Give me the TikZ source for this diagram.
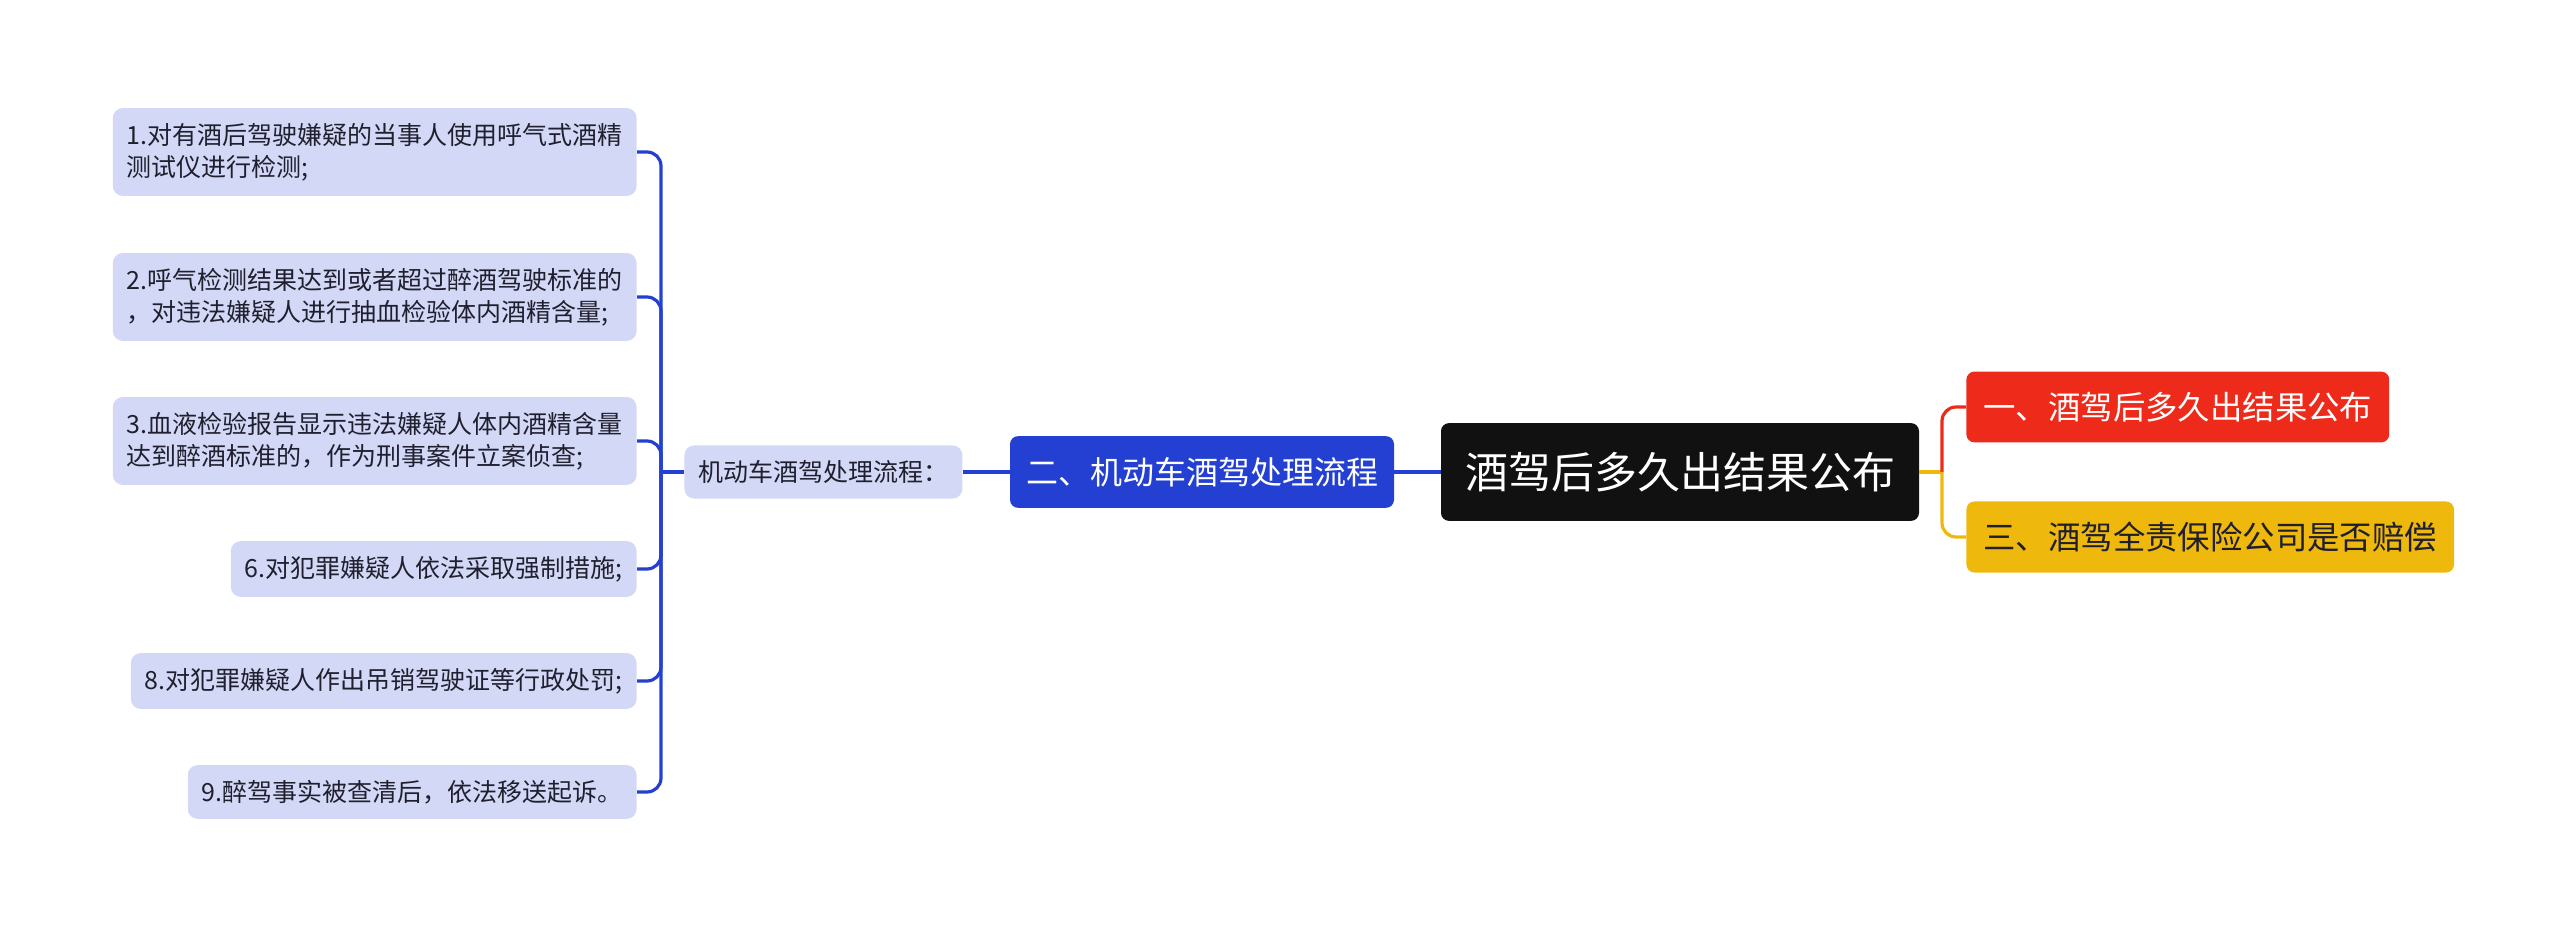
\documentclass[tikz,border=0pt]{standalone}
\usepackage{fontspec}
\setmainfont{Noto Sans CJK SC}
\definecolor{leaf}{HTML}{D3D8F6}
\definecolor{deepblue}{HTML}{2340D2}
\definecolor{rootblack}{HTML}{111111}
\definecolor{topred}{HTML}{EE2B1B}
\definecolor{topyellow}{HTML}{EFB80C}
\definecolor{ink}{HTML}{1F1F2E}
\begin{document}
\begin{tikzpicture}[
            x=0.5pt, y=-0.5pt,
            leafbox/.style={fill=leaf, text=ink, rounded corners=5pt, inner xsep=7pt, inner ysep=7.5pt, align=left, font=\fontsize{12.5}{16}\selectfont},
            bluebox/.style={fill=deepblue, text=white, rounded corners=4pt, inner xsep=8pt, inner ysep=10.5pt, font=\fontsize{16}{19}\selectfont},
            rootbox/.style={fill=rootblack, text=white, rounded corners=4pt, inner xsep=12pt, inner ysep=14.5pt, font=\fontsize{21.5}{25}\selectfont},
            redbox/.style={fill=topred, text=white, rounded corners=4pt, inner xsep=8.5pt, inner ysep=10.2pt, font=\fontsize{16.2}{19}\selectfont},
            yellowbox/.style={fill=topyellow, text=ink, rounded corners=4pt, inner xsep=8.5pt, inner ysep=10.2pt, font=\fontsize{16.2}{19}\selectfont},
            bluelink/.style={draw=deepblue, line width=1.6pt},
            redlink/.style={draw=topred, line width=1.6pt},
            yellowlink/.style={draw=topyellow, line width=1.6pt}
        ]
            \useasboundingbox (0,0) rectangle (2560,929);

            \node[rootbox] (root) at (1680,472) {酒驾后多久出结果公布};
            \node[bluebox] (branch2) at (1202,472) {二、机动车酒驾处理流程};
            \node[redbox, anchor=west] (branch1) at (1966,407) {一、酒驾后多久出结果公布};
            \node[yellowbox, anchor=west] (branch3) at (1966,537) {三、酒驾全责保险公司是否赔偿};
            \node[leafbox, anchor=west] (flow) at (684,472) {机动车酒驾处理流程：};

            \node[leafbox, anchor=east] (s1) at (637,152) {1.对有酒后驾驶嫌疑的当事人使用呼气式酒精\\测试仪进行检测;};
            \node[leafbox, anchor=east] (s2) at (637,297) {2.呼气检测结果达到或者超过醉酒驾驶标准的\\，对违法嫌疑人进行抽血检验体内酒精含量;};
            \node[leafbox, anchor=east] (s3) at (637,441) {3.血液检验报告显示违法嫌疑人体内酒精含量\\达到醉酒标准的，作为刑事案件立案侦查;};
            \node[leafbox, anchor=east] (s6) at (637,569) {6.对犯罪嫌疑人依法采取强制措施;};
            \node[leafbox, anchor=east] (s8) at (637,681) {8.对犯罪嫌疑人作出吊销驾驶证等行政处罚;};
            \node[leafbox, anchor=east] (s9) at (637,792) {9.醉驾事实被查清后，依法移送起诉。};

            \coordinate (lfork) at (661,472);
            \coordinate (rfork) at (1942,472);

            \draw[bluelink] (root) -- (branch2);
            \draw[bluelink] (branch2) -- (flow);
            \draw[bluelink] (flow.west) -- (lfork);
            \foreach \n in {s1,s2,s3,s6,s8,s9}
                \draw[bluelink, rounded corners=7pt] (lfork) |- (\n.east);

            \draw[yellowlink] (root.east) -- (rfork);
            \draw[redlink, rounded corners=7pt] (rfork) |- (branch1.west);
            \draw[yellowlink, rounded corners=7pt] (rfork) |- (branch3.west);

        \end{tikzpicture}
\end{document}
